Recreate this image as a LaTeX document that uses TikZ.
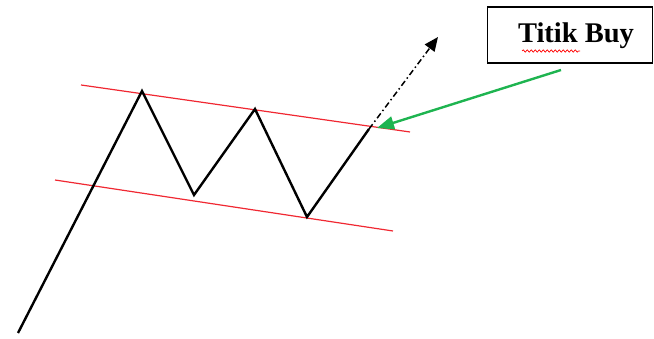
\documentclass[tikz,border=0pt]{standalone}
\usepackage{fontspec}
\setmainfont{Liberation Serif}
\usetikzlibrary{arrows.meta,decorations.pathmorphing}
\definecolor{chanred}{RGB}{240,40,50}
\definecolor{buygreen}{RGB}{30,180,80}
\tikzset{
  price/.style={line width=2.4pt,black,line join=miter},
  channel/.style={line width=1.2pt,chanred},
  breakout/.style={line width=1.5pt,black,dash pattern=on 6pt off 3pt on 1.5pt off 3pt,-{Triangle[length=14pt,width=12pt]}},
  pointer/.style={line width=2.4pt,buygreen,-{Triangle[length=17pt,width=13pt]}},
  labelbox/.style={draw,line width=1.3pt,minimum width=165pt,minimum height=56pt,inner sep=0pt},
  labeltext/.style={font=\fontsize{28.5}{32}\selectfont\bfseries,inner sep=0pt}
}
\begin{document}
\begin{tikzpicture}[x=1pt,y=-1pt]
\useasboundingbox (0,0) rectangle (654,339);
\coordinate (p0) at (18,333);
\coordinate (p1) at (142,91);
\coordinate (p2) at (194,195);
\coordinate (p3) at (255,109);
\coordinate (p4) at (307,217);
\coordinate (p5) at (369,129);
\coordinate (tip) at (438,37);
\coordinate (ua) at (81,85);
\coordinate (ub) at (410,132);
\coordinate (la) at (55,180);
\coordinate (lb) at (393,231);
\coordinate (gs) at (561,70);
\coordinate (ge) at (377,128);
\draw[channel] (ua) -- (ub);
\draw[channel] (la) -- (lb);
\draw[price] (p0) -- (p1) -- (p2) -- (p3) -- (p4) -- (p5);
\draw[breakout] (p5) -- (tip);
\node[labelbox] (box) at (570,35) {};
\node[labeltext] (boxtext) at (576,36) {Titik Buy};
\draw[red,line width=0.7pt,decorate,decoration={snake,amplitude=1.2pt,segment length=4pt}] (522,51) -- (580,51);
\draw[pointer] (gs) -- (ge);
\end{tikzpicture}
\end{document}
